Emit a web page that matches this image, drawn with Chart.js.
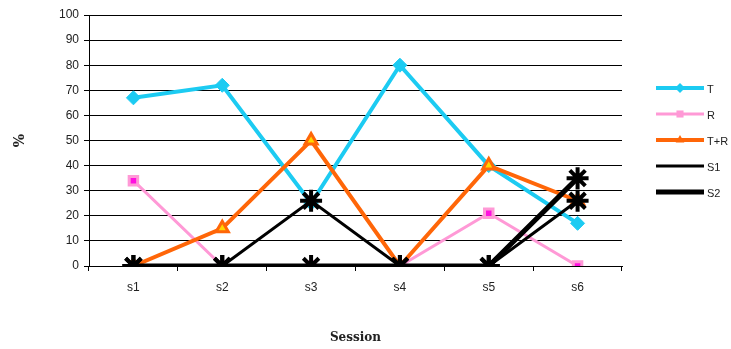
<!DOCTYPE html>
<html>
<head>
<meta charset="utf-8">
<script src="https://cdn.jsdelivr.net/npm/chart.js@4/dist/chart.umd.min.js"></script>
<style>
  html, body { margin: 0; padding: 0; background: #fff; }
  #wrap { width: 731px; height: 349px; position: relative; }
</style>
</head>
<body>
<div id="wrap"><canvas id="grafica"></canvas></div>
<script>
const sesiones = ['s1', 's2', 's3', 's4', 's5', 's6'];
const serieT   = [67, 72, 25, 80, 40, 17];
const serieR   = [34, 0, 0, 0, 21, 0];
const serieTR  = [0, 15, 50, 0, 40, 26];
const serieS1  = [0, 0, 26, 0, 0, 26];
const serieS2  = [0, 0, 0, 0, 0, 35];
const nombres  = ['T', 'R', 'T+R', 'S1', 'S2'];

// legend drawn by hand so the swatch is a line with its marker, like the original
const leyenda = {
    id: 'leyenda',
    afterDraw(chart) {
        const ctx = chart.ctx;
        chart.data.datasets.forEach((ds, i) => {
            const y = 88 + i * 26;
            ctx.save();
            ctx.strokeStyle = ds.borderColor;
            ctx.lineWidth = ds.borderWidth;
            ctx.beginPath();
            ctx.moveTo(656, y);
            ctx.lineTo(704, y);
            ctx.stroke();
            // small solid marker in the middle of the swatch
            ctx.fillStyle = ds.borderColor;
            ctx.strokeStyle = ds.borderColor;
            ctx.lineWidth = ds.pointStyle === 'star' ? 3 : 1;
            const r = ds.pointStyle === 'star' ? 4 : 5;
            Chart.helpers.drawPoint(ctx, { pointStyle: ds.pointStyle, radius: r, rotation: 0 }, 680, y);
            ctx.fillStyle = '#222';
            ctx.font = '11px "Liberation Sans", Arial, sans-serif';
            ctx.textBaseline = 'middle';
            ctx.fillText(ds.label, 707, y + 2);
            ctx.restore();
        });
    }
};

const ctx = document.getElementById('grafica').getContext('2d');

new Chart(ctx, {
    type: 'line',
    data: {
        labels: sesiones,
        datasets: [
            {
                label: nombres[0], data: serieT, order: 5,
                borderColor: '#1ccbf2', borderWidth: 4,
                pointStyle: 'rectRot', pointRadius: 7,
                pointBackgroundColor: '#1ccbf2', pointBorderColor: '#1ccbf2', pointBorderWidth: 1
            },
            {
                label: nombres[1], data: serieR, order: 4,
                borderColor: '#ff99d6', borderWidth: 3,
                pointStyle: 'rect', pointRadius: 6,
                pointBackgroundColor: '#ff10e0', pointBorderColor: '#ff99d6', pointBorderWidth: 3
            },
            {
                label: nombres[2], data: serieTR, order: 3,
                borderColor: '#ff6608', borderWidth: 4,
                pointStyle: 'triangle', pointRadius: 7,
                pointBackgroundColor: '#ffd800', pointBorderColor: '#ff6608', pointBorderWidth: 3
            },
            {
                label: nombres[3], data: serieS1, order: 2,
                borderColor: '#000', borderWidth: 3,
                pointStyle: 'star', pointRadius: 11,
                pointBackgroundColor: '#000', pointBorderColor: '#000', pointBorderWidth: 4
            },
            {
                label: nombres[4], data: serieS2, order: 1,
                borderColor: '#000', borderWidth: 5,
                pointStyle: 'star', pointRadius: 11,
                pointBackgroundColor: '#000', pointBorderColor: '#000', pointBorderWidth: 4
            }
        ]
    },
    options: {
        responsive: true,
        maintainAspectRatio: false,
        animation: false,
        layout: { padding: { left: 0, top: 13, right: 109, bottom: 0 } },
        plugins: {
            legend: { display: false },
            tooltip: { enabled: false }
        },
        elements: { line: { tension: 0 } },
        scales: {
            x: {
                offset: true,
                afterFit: (s) => { s.height = 83; },
                border: { color: '#000', width: 1 },
                grid: { drawOnChartArea: false, drawTicks: true, tickLength: 5, color: '#000', offset: true },
                ticks: { color: '#222', padding: 9, font: { family: '"Liberation Sans", Arial, sans-serif', size: 12 } },
                title: {
                    display: true, text: 'Session', color: '#222', padding: { top: 20 },
                    font: { family: '"DejaVu Serif", serif', size: 12, weight: 'bold' }
                }
            },
            y: {
                min: 0, max: 100,
                afterFit: (s) => { s.width = 89; },
                border: { color: '#000', width: 1 },
                grid: { color: '#000', lineWidth: 1, tickLength: 5 },
                ticks: { stepSize: 10, color: '#222', padding: 5, font: { family: '"Liberation Sans", Arial, sans-serif', size: 12 } },
                title: {
                    display: true, text: '%', color: '#222', padding: { top: 12, bottom: 0 },
                    font: { family: '"DejaVu Serif", serif', size: 14, weight: 'bold' }
                }
            }
        }
    },
    plugins: [leyenda]
});
</script>
</body>
</html>
